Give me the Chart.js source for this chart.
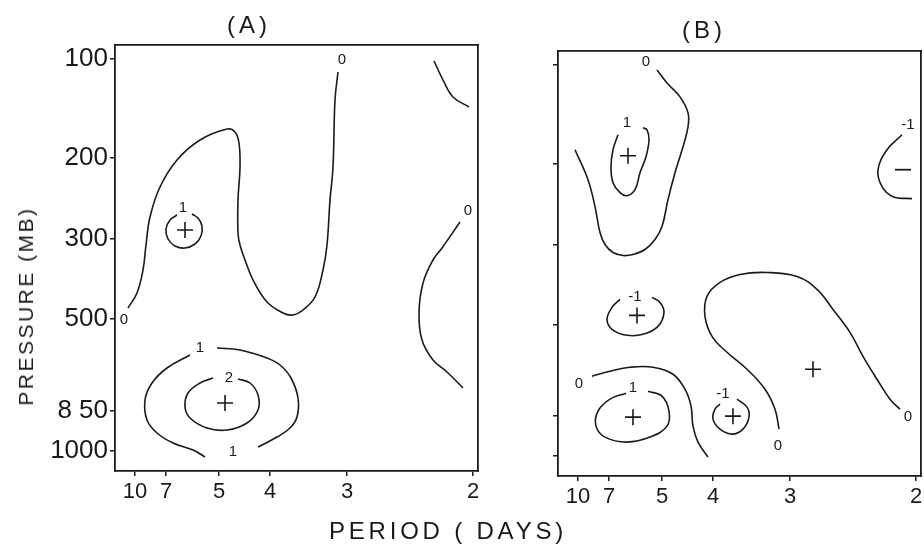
<!DOCTYPE html>
<html>
<head>
<meta charset="utf-8">
<script src="https://cdn.jsdelivr.net/npm/chart.js@4.4.1/dist/chart.umd.min.js"></script>
<style>
  body { margin: 0; background: #fff; width: 924px; height: 547px; position: relative; overflow: hidden;
         font-family: "Liberation Sans", sans-serif; color: #1a1a1a; }
  canvas { position: absolute; top: 0; }
  #chartA { left: 0; }
  #chartB { left: 540px; }
  .lbl { position: absolute; white-space: nowrap; transform: translate(-50%, -50%); }
</style>
</head>
<body>
<canvas id="chartA" width="500" height="547"></canvas>
<canvas id="chartB" width="384" height="547"></canvas>
<div class="lbl" style="left:249px; top:25px; font-size:24px; letter-spacing:4px;">(A)</div>
<div class="lbl" style="left:704px; top:30px; font-size:24px; letter-spacing:4px;">(B)</div>
<div class="lbl" style="left:448px; top:531px; font-size:24px; letter-spacing:3.8px;">PERIOD ( DAYS)</div>
<div class="lbl" style="left:26px; top:306px; font-size:21px; letter-spacing:2.5px; transform: translate(-50%, -50%) rotate(-90deg);">PRESSURE (MB)</div>
<script>
// frame units: 0..363 across each panel, 0..426 top to bottom

// axis ticks
var periodLabels = ['10', '7', '5', '4', '3', '2'];
var periodPos = [20, 51, 104, 155, 232, 358];
var pressureLabels = ['100', '200', '300', '500', '8 50', '1000'];
var pressurePos = [14, 113, 194, 274, 366, 406];

// panel A contours
var aZero = [[13,263],[22,248],[28,225],[31,200],[35,172],[45,142],[62,115],[85,95],[112,84],[120,87],[124,98],
             [125,122],[123,155],[123,188],[125,200],[130,215],[138,235],[152,257],[168,268],[178,270],[188,265],
             [200,252],[208,225],[212,200],[215,155],[218,122],[220,55],[223,27]];
var aOneSmall = [[62,170],[55,175],[51,184],[53,194],[60,201],[70,203],[80,199],[86,191],[87,181],[83,173],[77,169]];
var aOneLeft = [[75,310],[52,323],[37,338],[30,355],[32,375],[42,388],[58,398],[78,405],[90,412]];
var aOneRight = [[102,303],[125,305],[152,313],[165,320],[176,333],[183,353],[182,372],[175,383],[162,392],[143,402]];
var aTwo = [[98,333],[85,338],[73,348],[70,362],[75,373],[92,383],[112,385],[132,378],[143,365],[143,350],[135,338],[123,334]];
var aTopRight = [[319,16],[328,35],[338,52],[354,62]];
var aZeroRight = [[345,177],[327,203],[318,215],[308,238],[304,268],[307,295],[318,315],[332,327],[348,343]];
var aPlus = [[70,185],[110,358]];
var aTexts = [[9,275,'0'],[227,15,'0'],[353,166,'0'],[68,163,'1'],[85,303,'1'],[114,333,'2'],[118,407,'1']];

// panel B contours
var bZeroTop = [[17,99],[30,129],[37,156],[42,182],[47,194],[55,202],[65,205],[75,204],[87,199],[97,189],[104,176],
                [110,149],[117,122],[125,96],[130,76],[130,62],[122,46],[109,32],[99,19]];
var bOneTop = [[60,84],[55,99],[53,116],[55,132],[62,142],[69,145],[77,139],[82,122],[88,106],[91,89],[89,79],[85,77]];
var bMinusRight = [[344,84],[329,99],[320,119],[324,136],[335,146],[354,148]];
var bMinusMid = [[62,249],[54,257],[49,269],[54,279],[69,285],[85,284],[100,276],[106,262],[102,252],[94,247]];
var bZeroLow = [[34,326],[52,321],[72,317],[95,317],[115,324],[127,339],[133,356],[135,376],[140,392],[150,407]];
var bOneLow = [[68,343],[52,349],[40,361],[38,376],[47,387],[69,392],[92,387],[109,376],[111,361],[104,346],[90,341]];
var bZeroBig = [[221,379],[217,359],[207,339],[189,319],[169,302],[154,286],[147,266],[149,246],[162,232],[182,224],
                [209,222],[239,226],[259,239],[275,259],[292,282],[305,306],[319,329],[332,349],[342,359]];
var bMinusLow = [[179,349],[189,357],[191,367],[185,379],[174,384],[162,379],[155,369],[157,359],[162,354]];
var bPlus = [[70,105],[79,265],[75,367],[175,366],[255,319]];
var bMinus = [[345,119]];
var bTexts = [[88,11,'0'],[69,72,'1'],[350,74,'-1'],[77,246,'-1'],[21,334,'0'],[75,338,'1'],
              [165,344,'-1'],[350,367,'0'],[220,396,'0']];

var ink = '#1a1a1a';
Chart.defaults.font.family = '"Liberation Sans", sans-serif';
Chart.defaults.color = ink;

function toXY(pts) {
    return pts.map(function (p) { return { x: p[0], y: p[1] }; });
}

function fixSize(size, horizontal) {
    return function (scale) {
        if (horizontal) scale.height = size; else scale.width = size;
        scale.paddingLeft = scale.paddingRight = scale.paddingTop = scale.paddingBottom = 0;
    };
}

function drawPanel(id, lines, plus, minus, texts, box) {
    var datasets = lines.map(function (pts) {
        return { data: toXY(pts), showLine: true, tension: 0.4, pointRadius: 0,
                 borderColor: ink, borderWidth: 1.6 };
    });
    datasets.push({ data: toXY(plus), pointStyle: 'cross', pointRadius: 8, borderColor: ink, borderWidth: 1.6 });
    datasets.push({ data: toXY(minus), pointStyle: 'line', pointRadius: 8, borderColor: ink, borderWidth: 1.8 });

    // contour values written next to the lines
    var contourText = {
        id: 'contourText',
        afterDatasetsDraw: function (chart) {
            var ctx = chart.ctx, xs = chart.scales.x, ys = chart.scales.y;
            ctx.save();
            ctx.font = '15px "Liberation Sans"';
            ctx.fillStyle = ink;
            ctx.textAlign = 'center';
            ctx.textBaseline = 'middle';
            texts.forEach(function (t) {
                ctx.fillText(t[2], xs.getPixelForValue(t[0]), ys.getPixelForValue(t[1]));
            });
            ctx.restore();
        }
    };

    var tickGrid = { display: true, drawOnChartArea: false, drawTicks: true, tickLength: 5, color: ink, lineWidth: 1.5 };
    var edge = { display: true, color: ink, width: 1.8 };

    return new Chart(document.getElementById(id), {
        type: 'scatter',
        data: { datasets: datasets },
        plugins: [contourText],
        options: {
            responsive: false,
            animation: false,
            events: [],
            layout: { autoPadding: false, padding: { left: 0, top: box.top, right: box.right, bottom: 0 } },
            plugins: { legend: { display: false }, tooltip: { enabled: false } },
            scales: {
                x: {
                    type: 'linear', position: 'bottom', min: 0, max: 363,
                    afterBuildTicks: function (s) { s.ticks = periodPos.map(function (v) { return { value: v }; }); },
                    afterFit: fixSize(box.xh, true),
                    ticks: { autoSkip: false, maxRotation: 0, padding: 3, font: { size: 22 },
                             callback: function (v, i) { return periodLabels[i]; } },
                    grid: tickGrid, border: edge
                },
                y: {
                    type: 'linear', position: 'left', reverse: true, min: 0, max: 426,
                    afterBuildTicks: function (s) { s.ticks = pressurePos.map(function (v) { return { value: v }; }); },
                    afterFit: fixSize(box.yw, false),
                    ticks: { display: box.yLabels, autoSkip: false, padding: 2, font: { size: 26 },
                             callback: function (v, i) { return pressureLabels[i]; } },
                    grid: tickGrid, border: edge
                },
                x2: {
                    type: 'linear', position: 'top', min: 0, max: 363,
                    afterFit: fixSize(0, true),
                    ticks: { display: false }, grid: { display: false }, border: edge
                },
                y2: {
                    type: 'linear', position: 'right', min: 0, max: 426,
                    afterFit: fixSize(0, false),
                    ticks: { display: false }, grid: { display: false }, border: edge
                }
            }
        }
    });
}

window.onload = function () {
    drawPanel('chartA', [aZero, aOneSmall, aOneLeft, aOneRight, aTwo, aTopRight, aZeroRight], aPlus, [], aTexts,
              { top: 45, right: 22, xh: 76, yw: 115, yLabels: true });
    drawPanel('chartB', [bZeroTop, bOneTop, bMinusRight, bMinusMid, bZeroLow, bOneLow, bZeroBig, bMinusLow], bPlus, bMinus, bTexts,
              { top: 51, right: 3, xh: 71, yw: 18, yLabels: false });
};
</script>
</body>
</html>
